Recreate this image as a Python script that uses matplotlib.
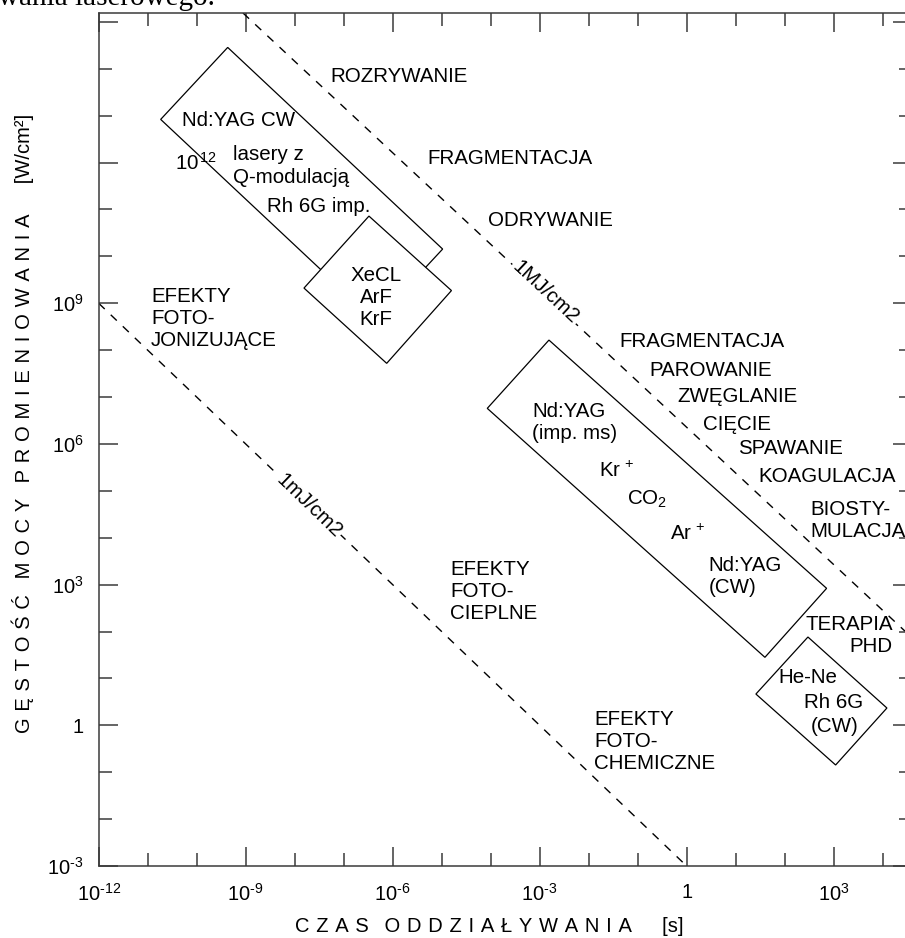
import numpy as np
import matplotlib
matplotlib.use("Agg")
import matplotlib.pyplot as plt
from matplotlib.patches import Polygon
from matplotlib.ticker import NullFormatter

plt.rcParams['font.family'] = ['Liberation Sans', 'DejaVu Sans']
plt.rcParams['mathtext.fontset'] = 'custom'
plt.rcParams['mathtext.rm'] = 'Liberation Sans'
plt.rcParams['mathtext.it'] = 'Liberation Sans:italic'
plt.rcParams['mathtext.bf'] = 'Liberation Sans:bold'

# ---------------- data (log10 exponents) ----------------
x_lim_exp = (-12.0, 4.6)          # interaction time [s]
y_lim_exp = (-3.0, 15.19)         # power density [W/cm2]

x_major_exp = [-12, -9, -6, -3, 0, 3]
x_major_labels = [r"$10^{\text{-}12}$", r"$10^{\text{-}9}$", r"$10^{\text{-}6}$",
                  r"$10^{\text{-}3}$", "1", r"$10^{3}$"]
x_minor_exp = [-11, -10, -8, -7, -5, -4, -2, -1, 1, 2, 4]

y_major_exp = [-3, 0, 3, 6, 9, 12, 15]
y_major_labels = [r"$10^{\text{-}3}$", "1", r"$10^{3}$", r"$10^{6}$", r"$10^{9}$", "", ""]
y_minor_exp = [-2, -1, 1, 2, 4, 5, 7, 8, 10, 11, 13, 14]

# constant-fluence lines (1 mJ/cm2 and 1 MJ/cm2), end points
fluence_low_t_exp = [-12.0, 0.0]
fluence_low_p_exp = [9.0, -3.0]
fluence_high_t_exp = [-9.055, 4.455]
fluence_high_p_exp = [15.19, 2.01]

# laser regions (corners: top, right, bottom, left)
box_qswitch_t = [-9.367, -4.980, -6.347, -10.735]
box_qswitch_p = [14.456, 10.156, 8.620, 12.921]
box_excimer_t = [-6.484, -4.800, -6.122, -7.810]
box_excimer_p = [10.859, 9.271, 7.719, 9.324]
box_cw_t = [-2.810, 2.857, 1.598, -4.069]
box_cw_p = [8.215, 2.921, 1.450, 6.759]
box_hene_t = [2.476, 4.088, 3.041, 1.414]
box_hene_p = [1.883, 0.369, -0.846, 0.667]

# text annotations: (text, log t, log P, horizontal alignment)
annotations = [
    ("ROZRYWANIE", -7.28, 13.84, "left"),
    ("FRAGMENTACJA", -5.29, 12.085, "left"),
    ("ODRYWANIE", -4.054, 10.76, "left"),
    ("EFEKTY\nFOTO-\nJONIZUJĄCE", -10.93, 8.67, "left"),
    ("FRAGMENTACJA", -1.37, 8.18, "left"),
    ("PAROWANIE", -0.755, 7.575, "left"),
    ("ZWĘGLANIE", -0.18, 7.02, "left"),
    ("CIĘCIE", 0.33, 6.42, "left"),
    ("SPAWANIE", 1.05, 5.91, "left"),
    ("KOAGULACJA", 1.455, 5.30, "left"),
    ("BIOSTY-\nMULACJA", 2.53, 4.36, "left"),
    ("TERAPIA\nPHD", 4.21, 1.925, "right"),
    ("EFEKTY\nFOTO-\nCIEPLNE", -4.83, 2.86, "left"),
    ("EFEKTY\nFOTO-\nCHEMICZNE", -1.89, -0.35, "left"),
    ("Nd:YAG CW", -10.294, 12.89, "left"),
    (r"10$^{\,12}$", -10.447, 12.0, "left"),
    ("lasery z", -9.269, 12.18, "left"),
    ("Q-modulacją", -9.269, 11.68, "left"),
    ("Rh 6G imp.", -8.573, 11.07, "left"),
    ("XeCL\nArF\nKrF", -6.336, 9.13, "center"),
    ("Nd:YAG\n(imp. ms)", -3.157, 6.456, "left"),
    (r"$\mathrm{Kr}^{\,+}$", -1.79, 5.43, "left"),
    (r"CO$_2$", -1.22, 4.81, "left"),
    (r"$\mathrm{Ar}^{\,+}$", -0.33, 4.08, "left"),
    ("Nd:YAG\n(CW)", 0.447, 3.18, "left"),
    ("He-Ne", 1.88, 1.015, "left"),
    ("Rh 6G", 2.39, 0.478, "left"),
    ("(CW)", 2.53, -0.03, "left"),
]
line_labels = [("1MJ/cm2", -2.871, 9.239, -43), ("1mJ/cm2", -7.714, 4.687, -44)]

x_title = ["CZAS", "ODDZIAŁYWANIA"]
x_unit = "[s]"
y_title = ["GĘSTOŚĆ", "MOCY", "PROMIENIOWANIA"]
y_unit = "[W/cm²]"
caption_fragment = "wania laserowego."

# ---------------- figure ----------------
W, H = 905, 938
fig = plt.figure(figsize=(W / 100, H / 100), dpi=100)
L, B, T, R = 98.7, 866, 13, 912
ax = fig.add_axes([L / W, 1 - B / H, (R - L) / W, (B - T) / H])
ax.set_xscale('log')
ax.set_yscale('log')
ax.set_xlim(10 ** x_lim_exp[0], 10 ** x_lim_exp[1])
ax.set_ylim(10 ** y_lim_exp[0], 10 ** y_lim_exp[1])

ax.set_xticks([10.0 ** e for e in x_major_exp], x_major_labels)
ax.set_xticks([10.0 ** e for e in x_minor_exp], minor=True)
ax.set_yticks([10.0 ** e for e in y_major_exp], y_major_labels)
ax.set_yticks([10.0 ** e for e in y_minor_exp], minor=True)
ax.xaxis.set_minor_formatter(NullFormatter())
ax.yaxis.set_minor_formatter(NullFormatter())

spine_col = '#3a3a3a'
ax.tick_params(which='both', direction='in', top=True, right=True,
               width=1.1, color=spine_col, labelsize=14.5)
ax.tick_params(which='major', length=13.5)
ax.tick_params(which='minor', length=9.3)
ax.tick_params(axis='x', which='major', pad=12)
ax.tick_params(axis='y', which='major', pad=11)
for s in ax.spines.values():
    s.set_color(spine_col)
    s.set_linewidth(1.1)

# fluence lines
for tx, py in [(fluence_low_t_exp, fluence_low_p_exp),
               (fluence_high_t_exp, fluence_high_p_exp)]:
    ax.plot(10.0 ** np.array(tx), 10.0 ** np.array(py), color='black',
            lw=1.0, linestyle=(0, (6, 6)), zorder=2)

# laser regions
for bt, bp, z in [(box_qswitch_t, box_qswitch_p, 3), (box_excimer_t, box_excimer_p, 4),
                  (box_cw_t, box_cw_p, 3), (box_hene_t, box_hene_p, 3)]:
    poly = Polygon(np.column_stack([10.0 ** np.array(bt), 10.0 ** np.array(bp)]),
                   closed=True, facecolor='white', edgecolor='black', lw=0.9, zorder=z)
    ax.add_patch(poly)

for txt, te, pe, ha in annotations:
    ax.text(10.0 ** te, 10.0 ** pe, txt, ha=ha, va='center', multialignment=ha,
            fontsize=14.8, linespacing=1.2, color='black', zorder=6)

for txt, te, pe, rot in line_labels:
    ax.text(10.0 ** te, 10.0 ** pe, txt, ha='center', va='center', rotation=rot,
            rotation_mode='anchor', fontsize=14.8, zorder=6,
            bbox=dict(facecolor='white', edgecolor='none', pad=1.5))

# axis titles with letter spacing
def spaced(words, unit):
    return ' \u2002'.join('\u2004'.join(w) for w in words) + '\u2003\u2002' + unit

ax.set_xlabel(spaced(x_title, x_unit), fontsize=14.5, va='center')
ax.xaxis.set_label_coords((489 - L) / (R - L), -(927 - B) / (B - T))
ax.set_ylabel(spaced(y_title, y_unit), fontsize=14.5, va='center')
ax.yaxis.set_label_coords(-(L - 23) / (R - L), (B - 423) / (B - T))

# cropped caption of the source page
fig.text(-2 / W, 1 - 5 / H, caption_fragment, family='Liberation Serif',
         fontsize=21, ha='left', va='baseline')

fig.savefig('out.png', dpi=100)
